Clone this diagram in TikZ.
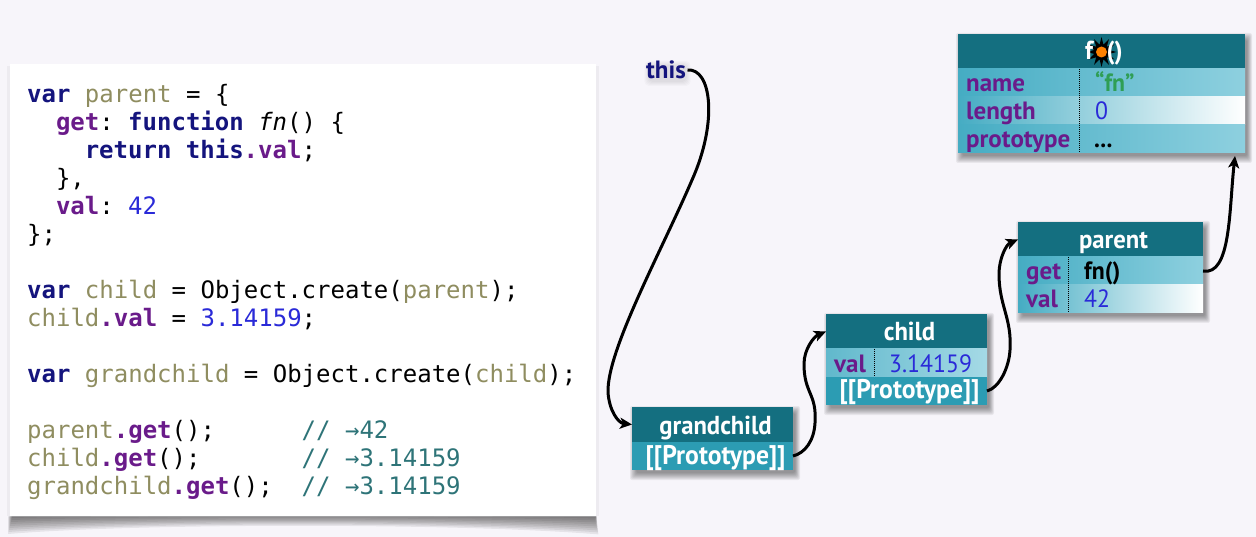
\documentclass[tikz,border=0pt]{standalone}
\usepackage{fontspec}
\setmainfont{PT Sans}
\setmonofont{DejaVu Sans Mono}
\newfontfamily\tallfont[FakeStretch=0.95]{PT Sans}
\usetikzlibrary{arrows.meta, backgrounds, shapes.geometric}

\definecolor{pagecol}{HTML}{F7F5FA}
\definecolor{headcol}{HTML}{146F80}
\definecolor{protocol}{HTML}{2C9CB3}
\definecolor{rowleft}{HTML}{45ACC3}
\definecolor{rowright}{HTML}{8ED0DF}
\definecolor{kwcol}{HTML}{14147D}
\definecolor{propcol}{HTML}{6A1B8A}
\definecolor{varcol}{HTML}{8F8D60}
\definecolor{numcol}{HTML}{2A2AD8}
\definecolor{cmtcol}{HTML}{2E7478}
\definecolor{strcol}{HTML}{2F9E55}

\newcommand{\kw}[1]{\textcolor{kwcol}{\textbf{#1}}}
\newcommand{\prp}[1]{\textcolor{propcol}{\textbf{#1}}}
\newcommand{\vn}[1]{\textcolor{varcol}{#1}}
\newcommand{\nm}[1]{\textcolor{numcol}{#1}}
\newcommand{\cm}[1]{\textcolor{cmtcol}{#1}}

% soft shadow under a box, given two corners
\newcommand{\softshadow}[2]{
	\foreach \d in {0,1,...,7} {
		\fill[black, opacity=0.06, rounded corners=2pt]
			([shift={(-2+\d*0.9,-1+\d)}]#1) rectangle ([shift={(7-\d*0.7,10-\d)}]#2);
	}
}

\tikzset{
	codeline/.style={anchor=base west, inner sep=0pt, font=\ttfamily\fontsize{24}{28}\selectfont},
	codepanel/.style={anchor=north west, inner sep=0pt, fill=white, minimum width=586pt, minimum height=452pt},
	rowbox/.style={anchor=north west, inner sep=0pt, outer sep=0pt, minimum height=28pt},
	headrow/.style={rowbox, fill=headcol, text=white, minimum height=35pt, text height=19pt, text depth=0pt, execute at begin node=\hspace*{6pt}, font=\tallfont\fontsize{26}{28}\selectfont\bfseries},
	protorow/.style={rowbox, fill=protocol, text=white, text height=16pt, text depth=0pt, execute at begin node=\hspace*{6pt}, font=\tallfont\fontsize{27}{28}\selectfont\bfseries},
	plainrow/.style={rowbox, left color=rowleft, right color=rowright},
	fadedrow/.style={rowbox, left color=rowleft, right color=white},
	keytext/.style={anchor=base west, inner sep=0pt, text=propcol, font=\fontsize{25}{26}\selectfont\bfseries},
	valtext/.style={anchor=base west, inner sep=0pt, font=\tallfont\fontsize{25}{26}\selectfont},
	divider/.style={black, densely dotted, line width=1pt},
	conn/.style={black, line width=3pt, -{Stealth[length=12pt, width=11pt, inset=3pt]}},
}

\begin{document}
\begin{tikzpicture}[x=1pt, y=-1pt]
	\useasboundingbox (0, 0) rectangle (1256, 537);

	% code panel
	\node[codepanel] (panel) at (10, 64) {};
	\node[codeline] (c1) at (27, 102.6) {\kw{var} \vn{parent} = \{};
	\node[codeline] (c2) at (55.8, 130.6) {\prp{get}: \kw{function} \textit{fn}() \{};
	\node[codeline] (c3) at (84.6, 158.6) {\kw{return} \kw{this}\prp{.val};};
	\node[codeline] (c4) at (55.8, 186.6) {\},};
	\node[codeline] (c5) at (55.8, 214.6) {\prp{val}: \nm{42}};
	\node[codeline] (c6) at (27, 242.6) {\};};
	\node[codeline] (c7) at (27, 298.6) {\kw{var} \vn{child} = Object.create(\vn{parent});};
	\node[codeline] (c8) at (27, 326.6) {\vn{child}\prp{.val} = \nm{3.14159};};
	\node[codeline] (c9) at (27, 382.6) {\kw{var} \vn{grandchild} = Object.create(\vn{child});};
	\node[codeline] (c10) at (27, 438.6) {\vn{parent}\prp{.get}();\ \ \ \ \ \ \cm{// →42}};
	\node[codeline] (c11) at (27, 466.6) {\vn{child}\prp{.get}();\ \ \ \ \ \ \ \cm{// →3.14159}};
	\node[codeline] (c12) at (27, 494.6) {\vn{grandchild}\prp{.get}();\ \ \cm{// →3.14159}};

	% fn object
	\node[headrow, minimum width=287pt] (fnhead) at (958, 34) {};
	\node[plainrow, minimum width=287pt] (fnname) at (958, 69) {};
	\node[fadedrow, minimum width=287pt] (fnlength) at (958, 97) {};
	\node[plainrow, minimum width=287pt] (fnproto) at (958, 125) {};
	\node[star, star points=12, star point ratio=2, minimum size=30pt, inner sep=0pt, fill=black] (fnstar) at (1101.5, 52) {};
	\node[circle, fill=orange, minimum size=11pt, inner sep=0pt] (fncore) at (fnstar) {};
	\node[inner sep=0pt, text=white, font=\tallfont\fontsize{26}{28}\selectfont\bfseries] (fnlabel) at (1104, 53) {f\phantom{n}()};
	\draw[divider] (1079, 69) -- (1079, 153);
	\node[keytext] (fnk1) at (966, 92) {name};
	\node[keytext] (fnk2) at (966, 120) {length};
	\node[keytext] (fnk3) at (966, 148) {prototype};
	\node[valtext, text=strcol] (fnv1) at (1095, 92) {\textbf{“fn”}};
	\node[valtext, text=numcol] (fnv2) at (1095, 120) {0};
	\node[valtext] (fnv3) at (1094, 148) {\textbf{...}};

	% parent object
	\node[headrow, minimum width=185pt] (parenthead) at (1018, 222) {parent};
	\node[plainrow, minimum width=185pt] (parentget) at (1018, 257) {};
	\node[fadedrow, minimum width=185pt] (parentval) at (1018, 285) {};
	\draw[divider] (1068, 257) -- (1068, 313);
	\node[keytext] (pk1) at (1026, 280) {get};
	\node[keytext] (pk2) at (1026, 308) {val};
	\node[valtext] (pv1) at (1084, 280) {\textbf{fn()}};
	\node[valtext, text=numcol] (pv2) at (1084, 308) {42};

	% child object
	\node[headrow, minimum width=161pt] (childhead) at (826, 314) {child};
	\node[rowbox, left color=rowleft!85, right color=rowright!80!white, minimum width=161pt] (childval) at (826, 349) {};
	\node[protorow, minimum width=161pt] (childproto) at (826, 377) {[[Prototype]]};
	\draw[divider] (874, 349) -- (874, 377);
	\node[keytext] (ck1) at (834, 372) {val};
	\node[valtext, text=numcol] (cv1) at (889, 372) {3.14159};

	% grandchild object
	\node[headrow, minimum width=161pt] (grandhead) at (632, 407) {grandchild};
	\node[protorow, minimum width=161pt] (grandproto) at (632, 442) {[[Prototype]]};

	\node[inner sep=1.5pt, text=kwcol, font=\fontsize{25}{26}\selectfont\bfseries] (thisref) at (666, 70) {this};

	\begin{scope}[on background layer]
		\fill[pagecol] (0, 0) rectangle (1256, 537);
		\softshadow{fnhead.north west}{fnproto.south east}
		\softshadow{parenthead.north west}{parentval.south east}
		\softshadow{childhead.north west}{childproto.south east}
		\softshadow{grandhead.north west}{grandproto.south east}
		% haze behind the this label
		\foreach \d in {0,1,2,3,4} {
			\fill[black, opacity=0.02, rounded corners=4pt]
				([shift={(\d,2+\d)}]thisref.north west) rectangle ([shift={(3-\d,5-\d)}]thisref.south east);
		}
		% curled shadow under the panel
		\foreach \d in {0,1,...,8} {
			\fill[black, opacity=0.07]
				(panel.south west) ++(-2+\d*0.5, 0) -- (panel.south east) -- ++(2-\d*0.5, 18-2*\d)
				.. controls (460, 523-\d) and (140, 523-\d) .. (8+\d*0.5, 534-2*\d) -- cycle;
		}
		\fill[black, opacity=0.04] (panel.north west) ++(-3, 2) rectangle ([xshift=3pt]panel.south east);
	\end{scope}

	% arrows
	\draw[conn] (thisref.east) .. controls +(24, -2) and (718, 122) .. (692, 180)
		.. controls (662, 250) and (607, 350) .. (608, 392)
		.. controls (609, 410) and (618, 423) .. (grandhead.west);
	\draw[conn] (grandproto.east) .. controls +(12, -3) and +(-1, 18) .. (815, 423)
		.. controls +(2, -30) and +(0, 30) .. (804, 364)
		.. controls +(0, -15) and +(-12, 5) .. (childhead.west);
	\draw[conn] (childproto.east) .. controls +(12, -3) and +(-1, 18) .. (1010, 350)
		.. controls +(2, -32) and +(0, 32) .. (999, 274)
		.. controls +(0, -15) and +(-12, 5) .. (parenthead.west);
	\coordinate (fntip) at (1235, 156);
	\draw[conn] (parentget.east) .. controls +(28, 5) and (1229, 210) .. (fntip);
\end{tikzpicture}
\end{document}
